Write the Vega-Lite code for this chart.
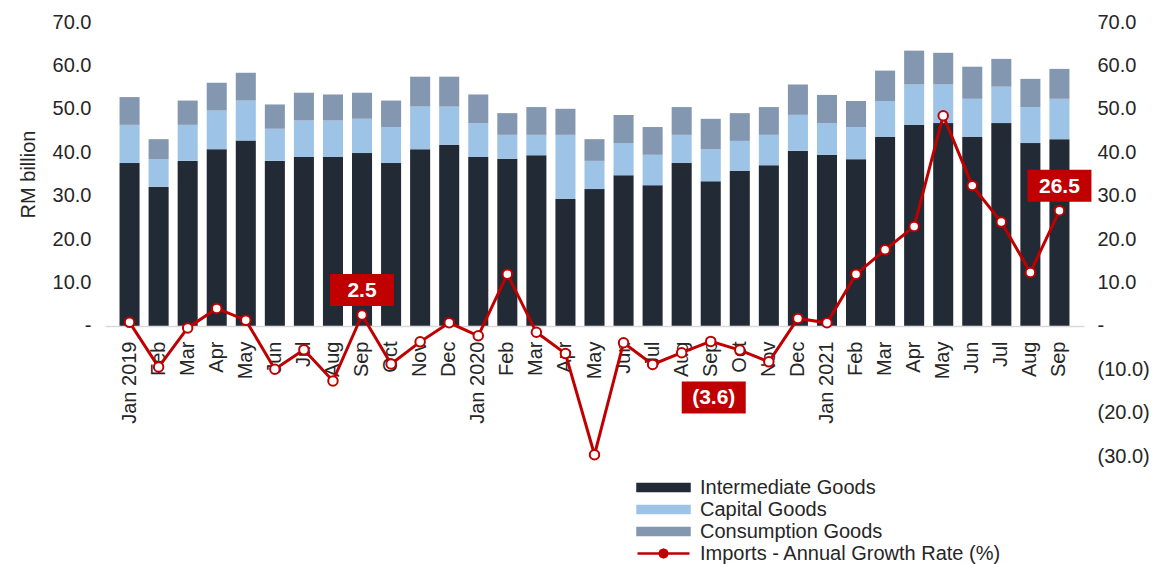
{
  "$schema": "https://vega.github.io/schema/vega-lite/v6.json",
  "width": 979,
  "height": 434,
  "autosize": {"type": "none"},
  "padding": {"left": 105, "top": 22, "right": 71, "bottom": 108},
  "background": "white",
  "config": {
    "view": {"stroke": null},
    "font": "Liberation Sans",
    "axis": {"grid": false, "ticks": false, "tickSize": 0, "domain": false, "labelFont": "Liberation Sans", "labelFontSize": 20, "labelColor": "#262626", "titleFont": "Liberation Sans", "titleColor": "#262626"},
    "legend": {"labelFont": "Liberation Sans", "labelFontSize": 20, "labelColor": "#262626"}
  },
  "datasets": {
    "main": [
      {"m": "Jan 2019", "Intermediate Goods": 37.5, "Capital Goods": 8.8, "Consumption Goods": 6.4, "rate": 0.8},
      {"m": "Feb 2019", "Intermediate Goods": 32.0, "Capital Goods": 6.4, "Consumption Goods": 4.6, "rate": -9.5},
      {"m": "Mar 2019", "Intermediate Goods": 38.0, "Capital Goods": 8.3, "Consumption Goods": 5.6, "rate": -0.5},
      {"m": "Apr 2019", "Intermediate Goods": 40.7, "Capital Goods": 8.9, "Consumption Goods": 6.4, "rate": 4.0},
      {"m": "May 2019", "Intermediate Goods": 42.7, "Capital Goods": 9.2, "Consumption Goods": 6.4, "rate": 1.3},
      {"m": "Jun 2019", "Intermediate Goods": 38.0, "Capital Goods": 7.4, "Consumption Goods": 5.6, "rate": -10.0},
      {"m": "Jul 2019", "Intermediate Goods": 38.9, "Capital Goods": 8.4, "Consumption Goods": 6.4, "rate": -5.5},
      {"m": "Aug 2019", "Intermediate Goods": 38.9, "Capital Goods": 8.4, "Consumption Goods": 6.0, "rate": -12.7},
      {"m": "Sep 2019", "Intermediate Goods": 39.8, "Capital Goods": 7.9, "Consumption Goods": 6.0, "rate": 2.5},
      {"m": "Oct 2019", "Intermediate Goods": 37.5, "Capital Goods": 8.3, "Consumption Goods": 6.1, "rate": -8.8},
      {"m": "Nov 2019", "Intermediate Goods": 40.7, "Capital Goods": 9.8, "Consumption Goods": 6.9, "rate": -3.7},
      {"m": "Dec 2019", "Intermediate Goods": 41.7, "Capital Goods": 8.8, "Consumption Goods": 6.9, "rate": 0.7},
      {"m": "Jan 2020", "Intermediate Goods": 38.9, "Capital Goods": 7.8, "Consumption Goods": 6.6, "rate": -2.3},
      {"m": "Feb 2020", "Intermediate Goods": 38.5, "Capital Goods": 5.5, "Consumption Goods": 5.0, "rate": 11.9},
      {"m": "Mar 2020", "Intermediate Goods": 39.3, "Capital Goods": 4.7, "Consumption Goods": 6.4, "rate": -1.5},
      {"m": "Apr 2020", "Intermediate Goods": 29.2, "Capital Goods": 14.8, "Consumption Goods": 6.0, "rate": -6.4},
      {"m": "May 2020", "Intermediate Goods": 31.5, "Capital Goods": 6.5, "Consumption Goods": 5.0, "rate": -29.7},
      {"m": "Jun 2020", "Intermediate Goods": 34.7, "Capital Goods": 7.4, "Consumption Goods": 6.5, "rate": -3.9},
      {"m": "Jul 2020", "Intermediate Goods": 32.4, "Capital Goods": 7.0, "Consumption Goods": 6.4, "rate": -8.9},
      {"m": "Aug 2020", "Intermediate Goods": 37.5, "Capital Goods": 6.5, "Consumption Goods": 6.4, "rate": -6.2},
      {"m": "Sep 2020", "Intermediate Goods": 33.3, "Capital Goods": 7.4, "Consumption Goods": 7.0, "rate": -3.6},
      {"m": "Oct 2020", "Intermediate Goods": 35.7, "Capital Goods": 6.9, "Consumption Goods": 6.4, "rate": -5.6},
      {"m": "Nov 2020", "Intermediate Goods": 37.0, "Capital Goods": 7.0, "Consumption Goods": 6.4, "rate": -8.3},
      {"m": "Dec 2020", "Intermediate Goods": 40.3, "Capital Goods": 8.3, "Consumption Goods": 7.0, "rate": 1.7},
      {"m": "Jan 2021", "Intermediate Goods": 39.4, "Capital Goods": 7.3, "Consumption Goods": 6.5, "rate": 0.7},
      {"m": "Feb 2021", "Intermediate Goods": 38.4, "Capital Goods": 7.4, "Consumption Goods": 6.0, "rate": 11.9},
      {"m": "Mar 2021", "Intermediate Goods": 43.5, "Capital Goods": 8.3, "Consumption Goods": 7.0, "rate": 17.5},
      {"m": "Apr 2021", "Intermediate Goods": 46.3, "Capital Goods": 9.3, "Consumption Goods": 7.8, "rate": 22.9},
      {"m": "May 2021", "Intermediate Goods": 46.7, "Capital Goods": 8.9, "Consumption Goods": 7.3, "rate": 48.4},
      {"m": "Jun 2021", "Intermediate Goods": 43.5, "Capital Goods": 8.8, "Consumption Goods": 7.4, "rate": 32.3},
      {"m": "Jul 2021", "Intermediate Goods": 46.7, "Capital Goods": 8.4, "Consumption Goods": 6.4, "rate": 23.9},
      {"m": "Aug 2021", "Intermediate Goods": 42.1, "Capital Goods": 8.3, "Consumption Goods": 6.5, "rate": 12.3},
      {"m": "Sep 2021", "Intermediate Goods": 43.0, "Capital Goods": 9.3, "Consumption Goods": 6.9, "rate": 26.5}
    ],
    "labels": [
      {"m": "Sep 2019", "rate": 2.5, "label": "2.5", "side": "above"},
      {"m": "Sep 2020", "rate": -3.6, "label": "(3.6)", "side": "below"},
      {"m": "Sep 2021", "rate": 26.5, "label": "26.5", "side": "above"}
    ]
  },
  "layer": [
    {
      "data": {"name": "main"},
      "transform": [
        {"fold": ["Intermediate Goods", "Capital Goods", "Consumption Goods"], "as": ["key", "value"]},
        {"calculate": "indexof(['Intermediate Goods', 'Capital Goods', 'Consumption Goods'], datum.key)", "as": "ord"}
      ],
      "mark": {"type": "bar"},
      "encoding": {
        "x": {
          "field": "m", "type": "nominal", "sort": null,
          "scale": {"paddingInner": 0.31, "paddingOuter": 0.5, "domain": ["Jan 2019","Feb 2019","Mar 2019","Apr 2019","May 2019","Jun 2019","Jul 2019","Aug 2019","Sep 2019","Oct 2019","Nov 2019","Dec 2019","Jan 2020","Feb 2020","Mar 2020","Apr 2020","May 2020","Jun 2020","Jul 2020","Aug 2020","Sep 2020","Oct 2020","Nov 2020","Dec 2020","Jan 2021","Feb 2021","Mar 2021","Apr 2021","May 2021","Jun 2021","Jul 2021","Aug 2021","Sep 2021"]},
          "axis": {"title": null, "labelAngle": 270, "labelExpr": "slice(datum.label, 0, 3) === 'Jan' ? datum.label : slice(datum.label, 0, 3)", "domain": true, "domainColor": "#d9d9d9", "domainWidth": 1.5, "offset": -130, "labelPadding": 15}
        },
        "y": {
          "field": "value", "type": "quantitative", "stack": "zero",
          "scale": {"domain": [-30, 70], "nice": false, "zero": false},
          "axis": {"orient": "left", "values": [0, 10, 20, 30, 40, 50, 60, 70], "labelExpr": "datum.value === 0 ? '-' : format(datum.value, '.1f')", "labelPadding": 14, "title": "RM billion", "titleFontSize": 20, "titleFontWeight": "normal", "titleX": -77, "titleY": 152, "titleAngle": 270, "titleAlign": "center", "titleBaseline": "middle"}
        },
        "color": {
          "field": "key", "type": "nominal",
          "scale": {"domain": ["Intermediate Goods", "Capital Goods", "Consumption Goods", "Imports - Annual Growth Rate (%)"], "range": ["#222a35", "#9dc3e6", "#8497b0", "#c00000"]},
          "legend": {
            "title": null, "orient": "none", "legendX": 547, "legendY": 454,
            "symbolSize": 400, "labelOffset": 25, "rowPadding": -1, "labelLimit": 500,
            "encode": {
              "symbols": {
                "update": {
                  "shape": {"signal": "datum.value === 'Imports - Annual Growth Rate (%)' ? 'M-2.6,0H-0.4M0.4,0H2.6M0.4,0L0.283,0.283L0,0.4L-0.283,0.283L-0.4,0L-0.283,-0.283L0,-0.4L0.283,-0.283Z' : 'M-2.6,-0.36H2.6V0.36H-2.6Z'"},
                  "fill": {"signal": "datum.value === 'Imports - Annual Growth Rate (%)' ? '#ffffff' : scale('color', datum.value)"},
                  "fillOpacity": {"value": 1},
                  "stroke": {"signal": "datum.value === 'Imports - Annual Growth Rate (%)' ? '#c00000' : 'transparent'"},
                  "strokeWidth": {"value": 2.5},
                  "opacity": {"value": 1}
                }
              }
            }
          }
        },
        "order": {"field": "ord", "type": "quantitative"}
      }
    },
    {
      "layer": [
        {
          "data": {"name": "main"},
          "mark": {"type": "line", "strokeWidth": 3},
          "encoding": {
            "x": {"field": "m", "type": "nominal", "sort": null},
            "y": {
              "field": "rate", "type": "quantitative",
              "scale": {"domain": [-30, 70], "nice": false, "zero": false},
              "axis": {"orient": "right", "values": [-30, -20, -10, 0, 10, 20, 30, 40, 50, 60, 70], "labelExpr": "datum.value === 0 ? '-' : (datum.value < 0 ? '(' + format(-datum.value, '.1f') + ')' : format(datum.value, '.1f'))", "labelPadding": 13, "title": null}
            },
            "color": {"datum": "Imports - Annual Growth Rate (%)", "type": "nominal"}
          }
        },
        {
          "data": {"name": "main"},
          "mark": {"type": "point", "shape": "circle", "filled": false, "fill": "#ffffff", "fillOpacity": 1, "stroke": "#c00000", "strokeWidth": 2, "size": 90, "opacity": 1},
          "encoding": {
            "x": {"field": "m", "type": "nominal", "sort": null},
            "y": {"field": "rate", "type": "quantitative"}
          }
        },
        {
          "data": {"name": "labels"},
          "transform": [{"filter": "datum.side === 'above'"}],
          "mark": {"type": "point", "shape": "M-1,-0.5H1V0.5H-1Z", "size": 4096, "filled": true, "color": "#c00000", "opacity": 1, "yOffset": -25},
          "encoding": {
            "x": {"field": "m", "type": "nominal", "sort": null},
            "y": {"field": "rate", "type": "quantitative"}
          }
        },
        {
          "data": {"name": "labels"},
          "transform": [{"filter": "datum.side === 'below'"}],
          "mark": {"type": "point", "shape": "M-1,-0.5H1V0.5H-1Z", "size": 4096, "filled": true, "color": "#c00000", "opacity": 1, "yOffset": 56, "xOffset": 3},
          "encoding": {
            "x": {"field": "m", "type": "nominal", "sort": null},
            "y": {"field": "rate", "type": "quantitative"}
          }
        },
        {
          "data": {"name": "labels"},
          "transform": [{"filter": "datum.side === 'above'"}],
          "mark": {"type": "text", "color": "#ffffff", "fontWeight": "bold", "fontSize": 21, "baseline": "middle", "align": "center", "yOffset": -24},
          "encoding": {
            "x": {"field": "m", "type": "nominal", "sort": null},
            "y": {"field": "rate", "type": "quantitative"},
            "text": {"field": "label"}
          }
        },
        {
          "data": {"name": "labels"},
          "transform": [{"filter": "datum.side === 'below'"}],
          "mark": {"type": "text", "color": "#ffffff", "fontWeight": "bold", "fontSize": 21, "baseline": "middle", "align": "center", "yOffset": 57, "xOffset": 3},
          "encoding": {
            "x": {"field": "m", "type": "nominal", "sort": null},
            "y": {"field": "rate", "type": "quantitative"},
            "text": {"field": "label"}
          }
        }
      ]
    }
  ],
  "resolve": {"scale": {"y": "independent"}}
}
